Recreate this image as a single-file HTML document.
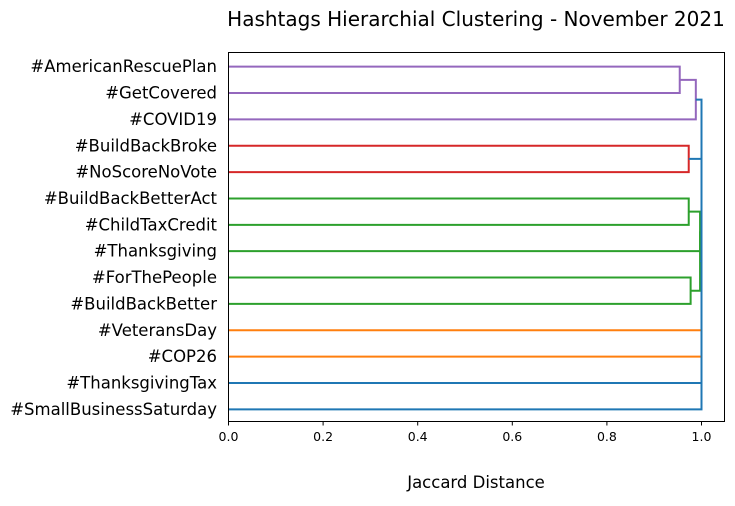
<!DOCTYPE html>
<html><head><meta charset="utf-8"><style>
body{margin:0;background:#fff;}
svg text{font-family:"DejaVu Sans","Liberation Sans",sans-serif;}
</style></head><body>
<svg id="chart" width="735" height="501" viewBox="0 0 735 501">
<text x="476" y="26" font-size="20" text-anchor="middle">Hashtags Hierarchial Clustering - November 2021</text>
<g id="links"></g>
<g id="ticks"></g>
<g id="labels"></g>
<rect x="228.5" y="52.5" width="496" height="369" fill="none" stroke="#000" stroke-width="1"/>
<text x="476" y="488" font-size="16.5" text-anchor="middle">Jaccard Distance</text>
</svg>
<script>
const leafLabels = ["#AmericanRescuePlan","#GetCovered","#COVID19","#BuildBackBroke","#NoScoreNoVote","#BuildBackBetterAct","#ChildTaxCredit","#Thanksgiving","#ForThePeople","#BuildBackBetter","#VeteransDay","#COP26","#ThanksgivingTax","#SmallBusinessSaturday"];
const mergeLeft = [0,14,3,5,17,8,18,10,12,21,20,16,15];
const mergeRight = [1,2,4,6,7,9,19,11,13,22,23,24,25];
const mergeDist = [0.954,0.988,0.973,0.973,0.997,0.977,0.997,1.0,1.0,1.0,1.0,1.0,1.0];
const mergeColor = ["#9467bd","#9467bd","#d62728","#2ca02c","#2ca02c","#2ca02c","#2ca02c","#ff7f0e","#1f77b4","#1f77b4","#1f77b4","#1f77b4","#1f77b4"];
const xTicks = [0,0.2,0.4,0.6,0.8,1.0];
const xTickLabels = ["0.0","0.2","0.4","0.6","0.8","1.0"];

const NS="http://www.w3.org/2000/svg";
const x0=228.5, pxPerUnit=473, yBottom=421.5, yTop=52.5;
const nLeaves=leafLabels.length;
const yUnit=(yBottom-yTop)/(nLeaves*10);
function xScale(d){return x0+d*pxPerUnit;}
function leafY(i){return yTop+(5+10*i)*yUnit+1;}
const nodeY=[], nodeX=[];
for(let i=0;i<nLeaves;i++){nodeY.push(leafY(i));nodeX.push(xScale(0));}
const links=document.getElementById('links');
mergeLeft.forEach((a,k)=>{
  const b=mergeRight[k], xd=xScale(mergeDist[k]);
  const ya=nodeY[a], yb=nodeY[b];
  const p=document.createElementNS(NS,'path');
  p.setAttribute('d',`M${nodeX[a]},${ya}H${xd}V${yb}H${nodeX[b]}`);
  p.setAttribute('fill','none');p.setAttribute('stroke',mergeColor[k]);p.setAttribute('stroke-width','2');
  
  
  links.appendChild(p);
  nodeY.push((ya+yb)/2);nodeX.push(xd);
});
const labels=document.getElementById('labels');
leafLabels.forEach((s,i)=>{
  const t=document.createElementNS(NS,'text');
  t.setAttribute('x',217);t.setAttribute('y',leafY(i)+5.5);
  t.setAttribute('text-anchor','end');t.setAttribute('font-size','16.5');
  t.textContent=s;
  
  
  labels.appendChild(t);
});
const ticks=document.getElementById('ticks');
xTicks.forEach((v,i)=>{
  const x=xScale(v);
  const l=document.createElementNS(NS,'line');
  l.setAttribute('x1',x);l.setAttribute('x2',x);l.setAttribute('y1',421.5);l.setAttribute('y2',425.5);l.setAttribute('stroke','#000');
  
  
  ticks.appendChild(l);
  const t=document.createElementNS(NS,'text');
  t.setAttribute('x',x);t.setAttribute('y',441);t.setAttribute('text-anchor','middle');t.setAttribute('font-size','12.5');
  t.textContent=xTickLabels[i];
  
  
  ticks.appendChild(t);
});
</script>
</body></html>
